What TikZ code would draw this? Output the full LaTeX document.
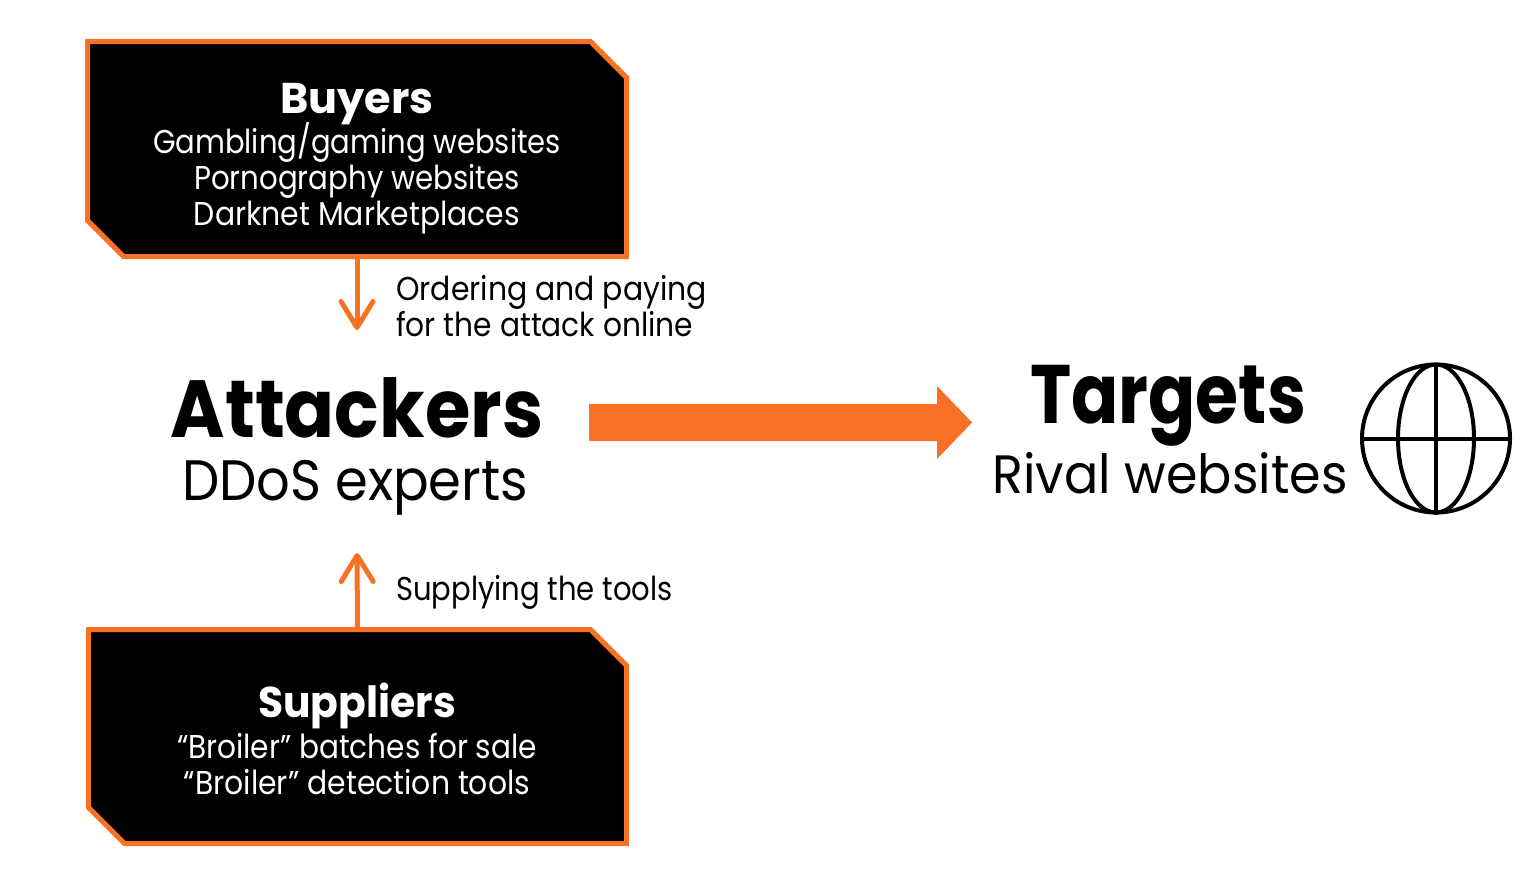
\documentclass[tikz,border=0pt]{standalone}
\usepackage{fontspec}
\setmainfont{Poppins}
\usetikzlibrary{arrows.meta}
\definecolor{accent}{HTML}{F97124}
\newcommand{\hsq}[2]{\scalebox{#1}[1]{#2}}
\begin{document}
\begin{tikzpicture}[x=1pt,y=-1pt,
  boxframe/.style={rectangle, draw=none, inner sep=0pt, outer sep=0pt},
  boxpath/.style={draw=accent, line width=5pt, fill=black, line join=miter},
  boxtitle/.style={anchor=base, text=white, font=\bfseries\fontsize{43}{43}\selectfont},
  boxline/.style={anchor=base, text=white, font=\fontsize{33}{33}\selectfont},
  label/.style={anchor=base west, text=black, font=\fontsize{33}{33}\selectfont, inner sep=0pt},
  conn/.style={draw=accent, line width=5pt, line cap=round,
    -{Straight Barb[length=26pt,width=32pt,round]}},
  globeline/.style={draw=black, line width=4pt}
]
\useasboundingbox (0,0) rectangle (1536,892);

% Buyers box
\node[boxframe, minimum width=539pt, minimum height=215pt] (buyers) at (357,149) {};
\path[boxpath] (buyers.north west) -- ([xshift=-36pt]buyers.north east)
  -- ([yshift=-36pt]buyers.north east) -- (buyers.south east)
  -- ([xshift=36pt]buyers.south west) -- ([yshift=36pt]buyers.south west) -- cycle;
\node[boxtitle] (buyersT) at (357,113) {Buyers};
\node[boxline] (b1) at (357,153) {\hsq{0.88}{Gambling/gaming websites}};
\node[boxline] (b2) at (357,189) {\hsq{0.886}{Pornography websites}};
\node[boxline] (b3) at (357,225) {\hsq{0.905}{Darknet Marketplaces}};

% Suppliers box
\node[boxframe, minimum width=538pt, minimum height=214pt] (suppliers) at (357.5,736.5) {};
\path[boxpath] (suppliers.north west) -- ([xshift=-36pt]suppliers.north east)
  -- ([yshift=-36pt]suppliers.north east) -- (suppliers.south east)
  -- ([xshift=36pt]suppliers.south west) -- ([yshift=36pt]suppliers.south west) -- cycle;
\node[boxtitle] (suppliersT) at (357,717) {\hsq{0.95}{Suppliers}};
\node[boxline] (s1) at (357,758) {\hsq{0.895}{“Broiler” batches for sale}};
\node[boxline] (s2) at (357,794) {\hsq{0.905}{“Broiler” detection tools}};

% Attackers
\node[anchor=base, font=\bfseries\fontsize{81}{81}\selectfont] (attackers) at (357,437) {\hsq{0.91}{Attackers}};
\node[anchor=base, font=\fontsize{57}{57}\selectfont] (ddos) at (355,500) {\hsq{0.925}{DDoS experts}};

% Targets
\node[anchor=base, font=\bfseries\fontsize{83}{83}\selectfont] (targets) at (1168,423) {\hsq{0.84}{Targets}};
\node[anchor=base, font=\fontsize{54}{54}\selectfont] (rival) at (1170,493) {\hsq{0.94}{Rival websites}};

% Globe
\node[circle, draw=black, line width=4pt, minimum size=148pt, inner sep=0pt] (globe) at (1436,438.5) {};
\draw[globeline] (globe.center) ellipse [x radius=38pt, y radius=74pt];
\draw[globeline] (globe.north) -- (globe.south);
\draw[globeline] (globe.west) -- (globe.east);

% Connectors
\coordinate (atkTop) at (357,330);
\coordinate (atkBot) at (357,553);
\draw[conn] (buyers.south) -- (atkTop);
\draw[conn] (suppliers.north) -- (atkBot);
\node[label] (order1) at (396,300) {\hsq{0.906}{Ordering and paying}};
\node[label] (order2) at (396,336) {\hsq{0.90}{for the attack online}};
\node[label] (supply) at (396,600) {\hsq{0.88}{Supplying the tools}};

% Big arrow
\coordinate (bigL) at (589,422.5);
\coordinate (bigR) at (972,422.5);
\draw[accent, line width=37pt, -{Triangle[length=35pt,width=73pt,line width=0pt]}] (bigL) -- (bigR);
\end{tikzpicture}
\end{document}
